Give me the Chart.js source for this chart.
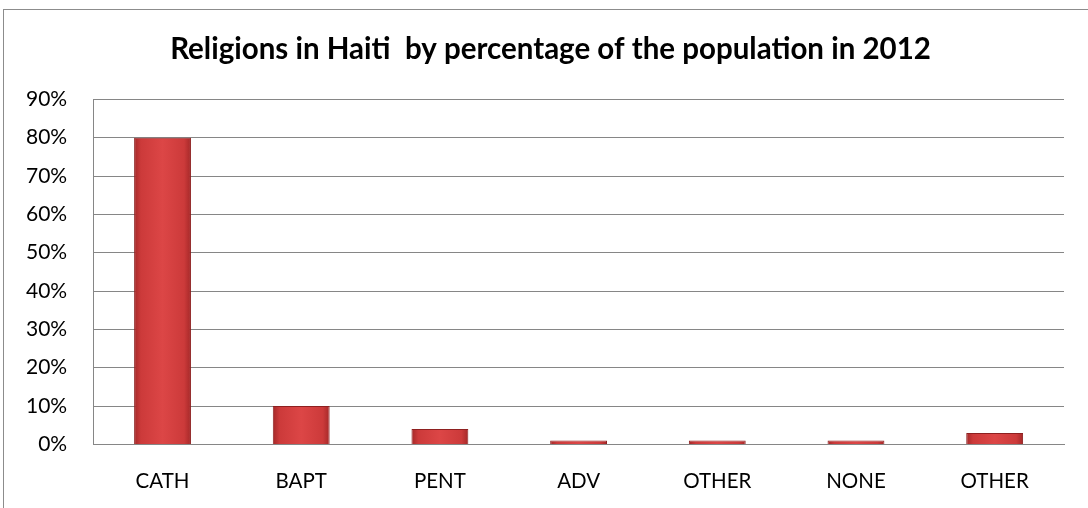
<!DOCTYPE html>
<html>
<head>
<meta charset="utf-8">
<script src="https://cdn.jsdelivr.net/npm/chart.js@4"></script>
<style>
  html, body { margin: 0; padding: 0; background: #fff; overflow: hidden; }
  #wrap { position: relative; width: 1088px; height: 508px; overflow: hidden; }
  #frame { position: absolute; left: 3px; top: 9px; width: 1110px; height: 520px; border: 1px solid #8c8c8c; box-sizing: border-box; }
  canvas { position: absolute; left: 0; top: 0; }
</style>
</head>
<body>
<div id="wrap">
  <div id="frame"></div>
  <canvas id="chart" width="1088" height="508"></canvas>
</div>
<script>
const categories = ['CATH', 'BAPT', 'PENT', 'ADV', 'OTHER', 'NONE', 'OTHER'];
const percentages = [80, 10, 4, 1, 1, 1, 3];
const yTicks = [0, 10, 20, 30, 40, 50, 60, 70, 80, 90];

const titleText = 'Religions in Haiti  by percentage of the population in 2012';
const fontFamily = 'Lato, "Open Sans", sans-serif';
const titleFont = { family: fontFamily, size: 29.5, weight: 'bold' };

function barGradient(context) {
  const chart = context.chart;
  const xScale = chart.scales.x;
  if (!chart.chartArea || !xScale) return '#d64040';
  const cx = xScale.getPixelForValue(context.dataIndex);
  const step = (chart.chartArea.right - chart.chartArea.left) / categories.length;
  const w = step * 0.41;
  const g = chart.ctx.createLinearGradient(cx - w / 2, 0, cx + w / 2, 0);
  g.addColorStop(0, '#a42828');
  g.addColorStop(0.12, '#cc3a3a');
  g.addColorStop(0.5, '#dc4646');
  g.addColorStop(0.88, '#cc3a3a');
  g.addColorStop(1, '#a42828');
  return g;
}

// title is centred on the visible frame (left edge to window edge), like the Excel chart
const frameTitle = {
  id: 'frameTitle',
  afterDraw(chart) {
    const block = chart.titleBlock;
    if (!block) return;
    const frame = document.getElementById('frame');
    const cx = (frame.offsetLeft + chart.width + 10) / 2;
    const c = chart.ctx;
    c.save();
    c.font = `${titleFont.weight} ${titleFont.size}px ${titleFont.family}`;
    c.fillStyle = '#000';
    c.textAlign = 'center';
    c.textBaseline = 'middle';
    const cy = block.top + block.options.padding.top + titleFont.size * 0.6;
    c.fillText(titleText, cx, cy);
    c.restore();
  }
};

const ctx = document.getElementById('chart').getContext('2d');

new Chart(ctx, {
  type: 'bar',
  data: {
    labels: categories,
    datasets: [{
      data: percentages,
      backgroundColor: barGradient,
      borderColor: '#8e2020',
      borderWidth: 1,
      categoryPercentage: 1,
      barPercentage: 0.41
    }]
  },
  options: {
    responsive: false,
    animation: false,
    layout: {
      padding: { left: 0, right: 24, top: 14, bottom: -11 }
    },
    scales: {
      x: {
        grid: { display: false, drawTicks: false },
        border: { display: true, color: '#868686', width: 1 },
        ticks: {
          color: '#000',
          padding: 25,
          font: { family: fontFamily, size: 20.5 }
        }
      },
      y: {
        min: 0,
        max: 90,
        afterBuildTicks: (axis) => {
          axis.ticks = yTicks.map(v => ({ value: v }));
        },
        grid: { color: '#868686', drawTicks: false, lineWidth: 1 },
        border: { display: true, color: '#868686', width: 1 },
        ticks: {
          color: '#000',
          padding: 26,
          font: { family: fontFamily, size: 21 },
          callback: (value) => value + '%'
        }
      }
    },
    plugins: {
      legend: { display: false },
      tooltip: { enabled: false },
      title: {
        display: true,
        text: titleText,
        color: 'rgba(0,0,0,0)',
        font: titleFont,
        padding: { top: 18, bottom: 32 }
      }
    }
  },
  plugins: [frameTitle]
});
</script>
</body>
</html>
